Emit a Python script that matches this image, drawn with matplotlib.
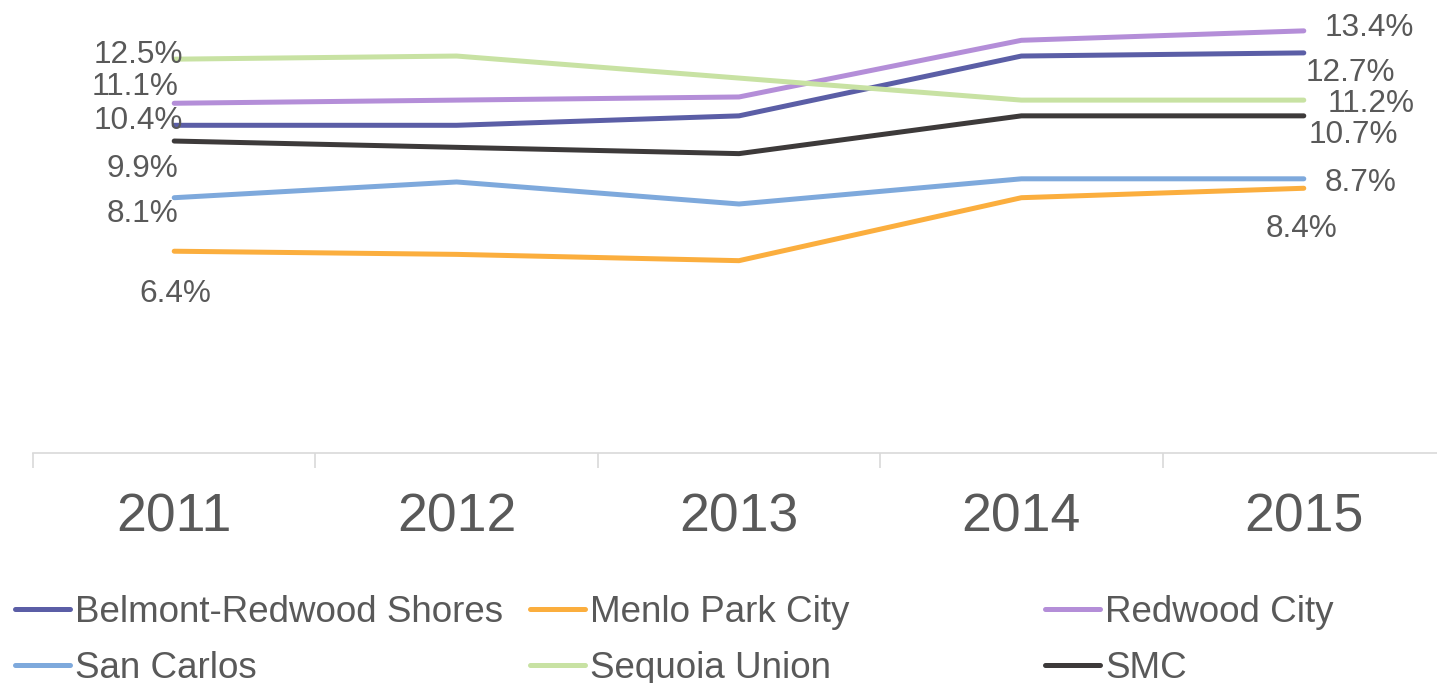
import matplotlib.pyplot as plt
from matplotlib.lines import Line2D

plt.rcParams['font.family'] = ['Liberation Sans', 'DejaVu Sans']

# Data
years = ['2011', '2012', '2013', '2014', '2015']
belmont = [10.4, 10.4, 10.7, 12.6, 12.7]
menlo = [6.4, 6.3, 6.1, 8.1, 8.4]
redwood = [11.1, 11.2, 11.3, 13.1, 13.4]
san_carlos = [8.1, 8.6, 7.9, 8.7, 8.7]
sequoia = [12.5, 12.6, 11.9, 11.2, 11.2]
smc = [9.9, 9.7, 9.5, 10.7, 10.7]

names = ['Belmont-Redwood Shores', 'Menlo Park City', 'Redwood City',
         'San Carlos', 'Sequoia Union', 'SMC']
series = [belmont, menlo, redwood, san_carlos, sequoia, smc]
colors = ['#5B5EA6', '#FBAE3E', '#B48ED8', '#7EA9DC', '#C8E2A3', '#3D3A3A']

# label offsets in pixels (first point, last point) and alignment
first_off = [(9, -4, 'right'), (1, -51, 'center'), (4, 8, 'right'),
             (4, -24, 'right'), (9, -4, 'right'), (4, -36, 'right')]
last_off = [(2, -28, 'left'), (-2, -49, 'center'), (21, -5, 'left'),
            (21, -12, 'left'), (24, -12, 'left'), (5, -27, 'left')]

TXT = '#595959'
W, H = 1437, 683
fig = plt.figure(figsize=(W / 100, H / 100), dpi=100)
# axes spans from x=33px to 1445px, y from 0 to 452.7px (from top)
ax = fig.add_axes([33 / W, (H - 452.7) / H, 1412 / W, 452.7 / H])

x = list(range(len(years)))
for vals, name, c, fo, lo in zip(series, names, colors, first_off, last_off):
    ax.plot(x, vals, color=c, lw=3.6, solid_capstyle='round',
            solid_joinstyle='round', label=name, clip_on=False)
    ax.annotate(f'{vals[0]:.1f}%', (x[0], vals[0]), xytext=fo[:2],
                textcoords='offset pixels', ha=fo[2], va='baseline',
                fontsize=22.7, color=TXT, annotation_clip=False)
    ax.annotate(f'{vals[-1]:.1f}%', (x[-1], vals[-1]), xytext=lo[:2],
                textcoords='offset pixels', ha=lo[2], va='baseline',
                fontsize=22.7, color=TXT, annotation_clip=False)

ax.set_xlim(-0.5, len(years) - 0.5)
ax.set_ylim(0, 14.38)
for s in ['top', 'right', 'left']:
    ax.spines[s].set_visible(False)
ax.spines['bottom'].set_color('#D9D9D9')
ax.spines['bottom'].set_linewidth(1.2)
ax.set_yticks([])
ax.set_xticks(x)
ax.set_xticklabels(years, fontsize=38.5, color=TXT)
ax.tick_params(axis='x', which='major', length=0, pad=29)
ax.set_xticks([i - 0.5 for i in range(len(years) + 1)], minor=True)
ax.tick_params(axis='x', which='minor', length=10.8, width=1.2, color='#D9D9D9')

# legend: three columns, two rows
col_x = [15, 530, 1045]
for ci in range(3):
    hs = [Line2D([], [], color=colors[ci], lw=3.6, solid_capstyle='round'),
          Line2D([], [], color=colors[ci + 3], lw=3.6, solid_capstyle='round')]
    fig.legend(hs, [names[ci], names[ci + 3]], loc='upper left',
               bbox_to_anchor=(col_x[ci] / W, (H - 595) / H),
               frameon=False, fontsize=26.5, handlelength=1.5,
               handletextpad=0.14, borderpad=0, borderaxespad=0,
               labelspacing=0.57, labelcolor=TXT)

fig.savefig('out.png', dpi=100)
